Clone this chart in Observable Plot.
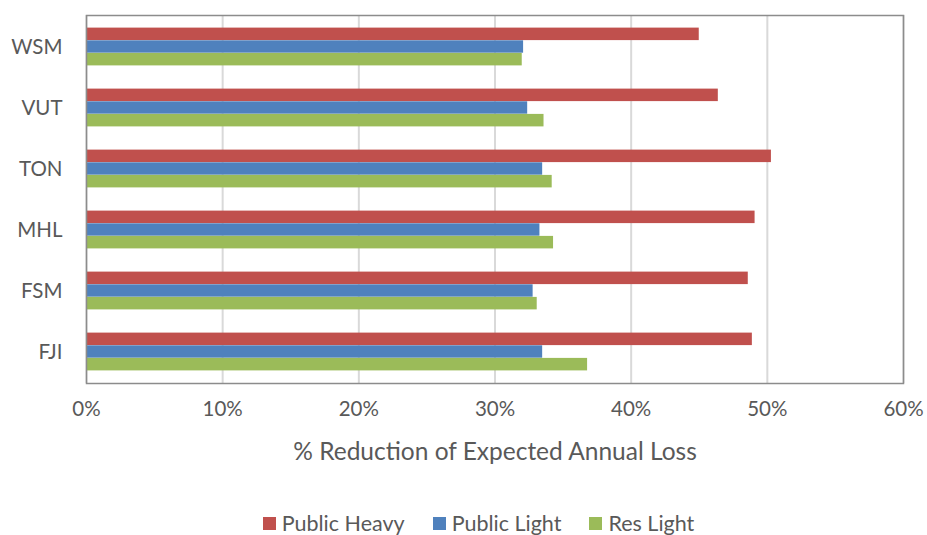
<!DOCTYPE html>
<html>
<head>
<meta charset="utf-8">
<script src="https://cdn.jsdelivr.net/npm/d3@7"></script>
<script src="https://cdn.jsdelivr.net/npm/@observablehq/plot@0.6"></script>
<style>
  body { margin: 0; background: #fff; font-family: Lato, "Open Sans", sans-serif; }
  #chart svg { display: block; }
  .legend { display: flex; justify-content: center; gap: 28px; width: 927px; margin-top: 40px;
            font-family: Lato, sans-serif; font-size: 21.5px; color: #595959; padding-left: 30px; box-sizing: border-box; }
  .legend span.item { display: flex; align-items: center; }
  .legend span.sw { width: 13px; height: 13px; display: inline-block; margin-right: 6px; }
</style>
</head>
<body>
<div id="chart"></div>
<script>
const countries = ["WSM", "VUT", "TON", "MHL", "FSM", "FJI"];
const publicHeavy = [0.450, 0.464, 0.503, 0.491, 0.486, 0.489];
const publicLight = [0.321, 0.324, 0.335, 0.333, 0.328, 0.335];
const resLight    = [0.320, 0.336, 0.342, 0.343, 0.331, 0.368];
const seriesNames = ["Public Heavy", "Public Light", "Res Light"];
const seriesColors = ["#C0504D", "#4F81BD", "#9BBB59"];
const xTicks = [0, 0.1, 0.2, 0.3, 0.4, 0.5, 0.6];
const xLabel = "% Reduction of Expected Annual Loss";

const rows = (vals, s) => countries.map((c, i) => ({country: c, value: vals[i], series: s}));
const heavy = rows(publicHeavy, seriesNames[0]);
const light = rows(publicLight, seriesNames[1]);
const res = rows(resLight, seriesNames[2]);

const chart = Plot.plot({
  width: 927,
  height: 470,
  marginTop: 15,
  marginBottom: 87,
  marginLeft: 86,
  marginRight: 24,
  style: {fontFamily: "Lato, 'Open Sans', sans-serif", fontSize: "20px", color: "#595959", background: "#fff"},
  x: {domain: [0, 0.6]},
  y: {domain: countries, padding: 0},
  color: {domain: seriesNames, range: seriesColors},
  marks: [
    Plot.gridX(xTicks, {stroke: "#d9d9d9", strokeOpacity: 1, strokeWidth: 2}),
    Plot.barX(heavy, {x: "value", y: "country", fill: "series", insetTop: 11.6, insetBottom: 36.9}),
    Plot.barX(light, {x: "value", y: "country", fill: "series", insetTop: 24.3, insetBottom: 24.3}),
    Plot.barX(res, {x: "value", y: "country", fill: "series", insetTop: 36.9, insetBottom: 11.6}),
    Plot.frame({stroke: "#8c8c8c", strokeWidth: 1.5}),
    Plot.axisX({ticks: xTicks, tickFormat: d3.format(".0%"), tickSize: 0, tickPadding: 18, label: null, fill: "#595959", fontSize: 20.5}),
    Plot.axisY({tickSize: 0, tickPadding: 24, label: null, fill: "#595959", fontSize: 20.5}),
    Plot.text([xLabel], {frameAnchor: "bottom", text: d => d, dy: 69, lineAnchor: "middle", fontSize: 24.5, fill: "#595959"})
  ]
});
document.getElementById("chart").appendChild(chart);

const legend = document.createElement("div");
legend.className = "legend";
seriesNames.forEach((s, i) => {
  const item = document.createElement("span");
  item.className = "item";
  const sw = document.createElement("span");
  sw.className = "sw";
  sw.style.background = seriesColors[i];
  item.appendChild(sw);
  item.appendChild(document.createTextNode(s));
  legend.appendChild(item);
});
document.body.appendChild(legend);
</script>
</body>
</html>
